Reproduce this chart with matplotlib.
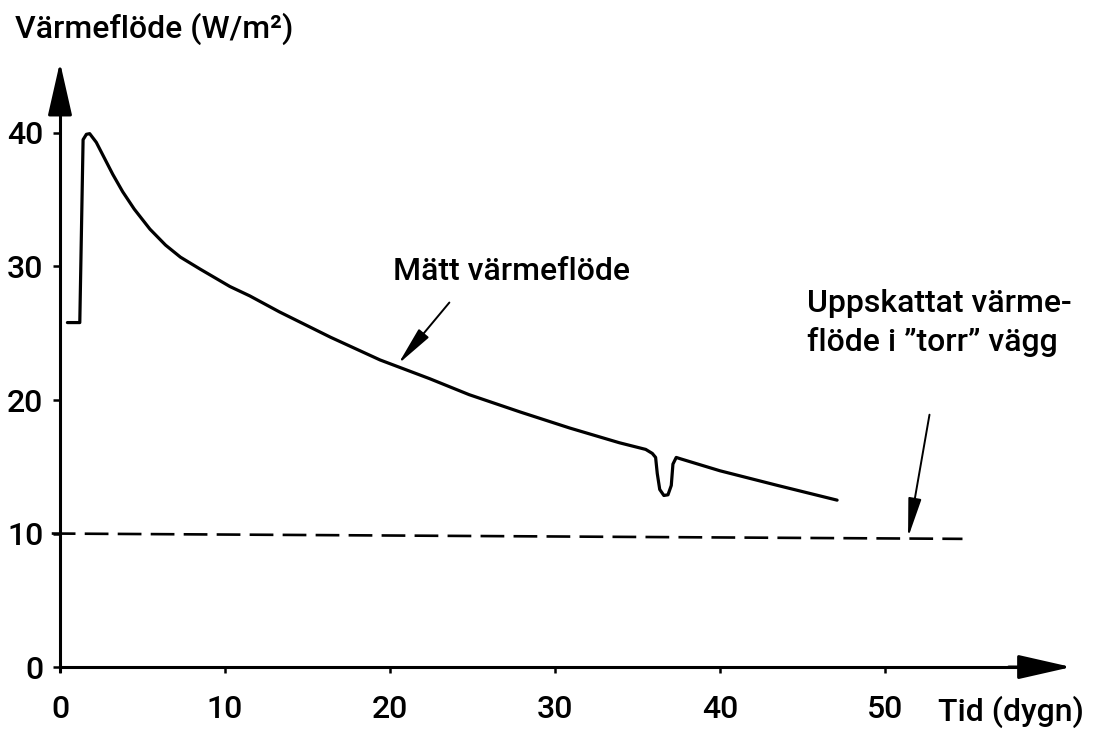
import matplotlib
matplotlib.use("Agg")
import matplotlib.pyplot as plt

plt.rcParams['font.family'] = ['Roboto', 'DejaVu Sans']

# ---- data ----
time_days = [0.45, 1.2, 1.4, 1.6, 1.8, 2.2, 2.7, 3.2, 3.8, 4.5, 5.45, 6.4, 7.3,
             8.5, 10.3, 11.5, 13.3, 16.4, 19.4, 22.4, 24.8, 27.9, 30.9, 33.9,
             35.5, 35.9, 36.1, 36.2, 36.35, 36.6, 36.85, 37.05, 37.15, 37.35,
             37.6, 40.0, 43.5, 47.1]
heat_flux = [25.8, 25.8, 39.5, 39.9, 39.95, 39.3, 38.1, 36.9, 35.6, 34.3, 32.8,
             31.6, 30.7, 29.8, 28.5, 27.8, 26.6, 24.7, 23.0, 21.6, 20.4, 19.1,
             17.9, 16.8, 16.3, 16.0, 15.7, 14.5, 13.3, 12.85, 12.9, 13.6, 15.2,
             15.7, 15.6, 14.7, 13.6, 12.5]
dry_wall_x = [-0.5, 54.7]
dry_wall_y = [10.0, 9.6]

x_ticks = [0, 10, 20, 30, 40, 50]
y_ticks = [0, 10, 20, 30, 40]

y_label = "Värmeflöde (W/m²)"
x_label = "Tid (dygn)"
label_measured = "Mätt värmeflöde"
label_estimated = "Uppskattat värme-\nflöde i \u201dtorr\u201d vägg"

# ---- figure ----
fig = plt.figure(figsize=(11.09, 7.33), dpi=100)
ax = fig.add_axes([0, 0, 1, 1])
ax.set_xlim(-3.636, 63.58)
ax.set_ylim(-4.94, 49.96)
ax.set_facecolor('white')

FS = 23
FW = 'medium'
lw_axis = 2.2

for s in ['top', 'right']:
    ax.spines[s].set_visible(False)
ax.spines['left'].set_position(('data', 0))
ax.spines['bottom'].set_position(('data', 0))
ax.spines['left'].set_bounds(-0.3, 42)
ax.spines['bottom'].set_bounds(0, 58)
for s in ['left', 'bottom']:
    ax.spines[s].set_linewidth(lw_axis)
    ax.spines[s].set_color('black')

ax.set_xticks(x_ticks)
ax.set_yticks(y_ticks)
ax.tick_params(axis='x', direction='out', length=4, width=1.8, pad=16,
               labelsize=FS)
ax.tick_params(axis='y', direction='out', length=5, width=1.8, pad=7,
               labelsize=FS)
for lab in ax.get_xticklabels() + ax.get_yticklabels():
    lab.set_fontweight(FW)

# axis arrowheads
ax.annotate('', xy=(0, 45.3), xytext=(0, 41.5),
            arrowprops=dict(arrowstyle='-|>,head_length=33,head_width=7.5',
                            mutation_scale=1, color='black', lw=lw_axis,
                            shrinkA=0, shrinkB=0))
ax.annotate('', xy=(61.3, 0), xytext=(57.5, 0),
            arrowprops=dict(arrowstyle='-|>,head_length=33,head_width=7.5',
                            mutation_scale=1, color='black', lw=lw_axis,
                            shrinkA=0, shrinkB=0))

# measured curve
ax.plot(time_days, heat_flux, color='black', lw=2.3, solid_joinstyle='round',
        solid_capstyle='round')
# estimated dry wall line
ax.plot(dry_wall_x, dry_wall_y, color='black', lw=1.9, dashes=(9, 3.5))

# annotations
ax.annotate('', xy=(20.5, 22.7), xytext=(23.6, 27.3),
            arrowprops=dict(arrowstyle='-|>,head_length=24,head_width=4',
                            mutation_scale=1, color='black', lw=1.4,
                            shrinkA=0, shrinkB=0))
ax.annotate('', xy=(51.4, 9.7), xytext=(52.7, 18.9),
            arrowprops=dict(arrowstyle='-|>,head_length=24,head_width=4',
                            mutation_scale=1, color='black', lw=1.4,
                            shrinkA=0, shrinkB=0))

ax.text(20.2, 29.0, label_measured, fontsize=FS, fontweight=FW,
        ha='left', va='baseline')
ax.text(45.3, 23.7, label_estimated, fontsize=FS, fontweight=FW,
        ha='left', va='baseline', linespacing=1.35)
ax.text(-2.73, 47.1, y_label, fontsize=FS, fontweight=FW,
        ha='left', va='baseline')
ax.text(53.2, -4.0, x_label, fontsize=FS, fontweight=FW,
        ha='left', va='baseline')

fig.savefig('out.png', dpi=100, facecolor='white')
